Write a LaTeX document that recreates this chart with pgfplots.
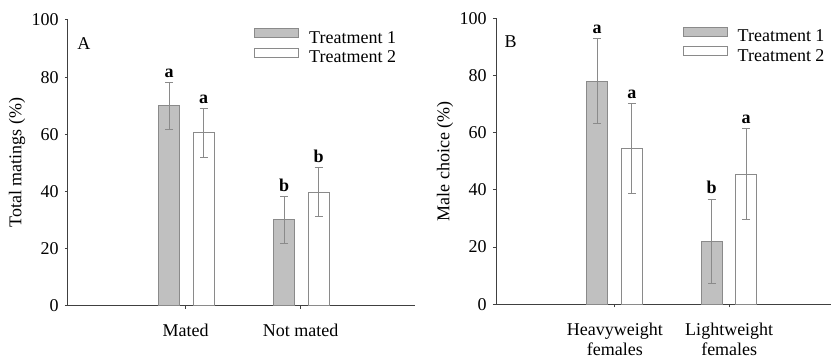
\documentclass[border=0pt]{standalone}
\usepackage{fontspec}
\setmainfont{Liberation Serif}
\usepackage{pgfplots}
\pgfplotsset{compat=1.18}
\definecolor{barfill}{HTML}{C0C0C0}
\definecolor{edge}{HTML}{8A8A8A}
\definecolor{axiscol}{HTML}{404040}
\tikzset{lett/.style={anchor=south, inner sep=0pt, yshift=2.3pt, font=\bfseries\fontsize{9}{10}\selectfont}}
\begin{document}
\fontsize{9}{10.8}\selectfont
\begin{tikzpicture}
\useasboundingbox (0,0) rectangle (416pt,179pt);
\pgfplotsset{
 panel/.style={
  scale only axis, anchor=south west,
  axis x line*=bottom, axis y line*=left,
  ymin=0, ymax=100, ytick={0,20,...,100}, xtick={0,1},
  tick align=outside, major tick length=1.5pt,
  axis line style={axiscol, line width=0.5pt},
  tick style={axiscol, line width=0.5pt},
  /pgf/number format/assume math mode=true,
  tick label style={font=\fontsize{9}{10}\selectfont},
  xticklabel style={align=center, yshift=-4.5pt, font=\fontsize{9}{10}\selectfont},
  ylabel style={font=\fontsize{9}{10}\selectfont},
  ybar, bar width=10.5pt,
  error bars/y dir=both, error bars/y explicit,
  error bars/error bar style={edge, line width=0.5pt},
  error bars/error mark options={rotate=90, edge, mark size=2pt, line width=0.5pt},
  legend image code/.code={\draw[##1] (0pt,0.3pt) rectangle (21.85pt,4.8pt);},
  legend cell align=left,
  legend style={draw=none, fill=none, font=\fontsize{9}{10}\selectfont, anchor=north west,
    column sep=3pt, row sep=-1.5pt},
  clip=false,
 },
 t1/.style={fill=barfill, draw=edge, line width=0.5pt},
 t2/.style={fill=white, draw=edge, line width=0.5pt},
}
\begin{axis}[panel, at={(34pt,26.15pt)}, width=173.5pt, height=142.85pt,
  xmin=-1.023, xmax=1.994, xticklabels={Mated,Not mated},
  ylabel={Total matings (\%)},
  every axis y label/.style={at={(axis description cs:-0.147,0.5)}, rotate=90, anchor=center},
  legend style={at={(axis description cs:0.519,0.99)}}]
\addplot[t1, bar shift=-8.25pt] coordinates {(0,70) +- (0,8.2) (1,30) +- (0,8.3)};
\addplot[t2, bar shift=9pt] coordinates {(0,60.5) +- (0,8.6) (1,39.7) +- (0,8.5)};
\legend{Treatment 1, Treatment 2}
\node[lett, xshift=-8.25pt] at (axis cs:0,78.2) {a};
\node[lett, xshift=9pt] at (axis cs:0,69.1) {a};
\node[lett, xshift=-8.25pt] at (axis cs:1,38.3) {b};
\node[lett, xshift=9pt] at (axis cs:1,48.2) {b};
\node[anchor=center, inner sep=0pt] at (rel axis cs:0.046,0.918) {A};
\end{axis}
\begin{axis}[panel, at={(248pt,26.85pt)}, width=167.5pt, height=143pt,
  xmin=-1.04, xmax=1.89, xticklabels={{Heavyweight\\females},{Lightweight\\females}},
  ylabel={Male choice (\%)},
  every axis y label/.style={at={(axis description cs:-0.152,0.5)}, rotate=90, anchor=center},
  legend style={at={(axis description cs:0.539,0.99)}}]
\addplot[t1, bar shift=-8.85pt] coordinates {(0,78) +- (0,14.8) (1,22) +- (0,14.8)};
\addplot[t2, bar shift=8.5pt] coordinates {(0,54.5) +- (0,15.8) (1,45.5) +- (0,15.9)};
\legend{Treatment 1, Treatment 2}
\node[lett, xshift=-8.85pt] at (axis cs:0,92.8) {a};
\node[lett, xshift=8.5pt] at (axis cs:0,70.3) {a};
\node[lett, xshift=-8.85pt] at (axis cs:1,36.8) {b};
\node[lett, xshift=8.5pt] at (axis cs:1,61.4) {a};
\node[anchor=center, inner sep=0pt] at (rel axis cs:0.044,0.918) {B};
\end{axis}
\end{tikzpicture}
\end{document}
